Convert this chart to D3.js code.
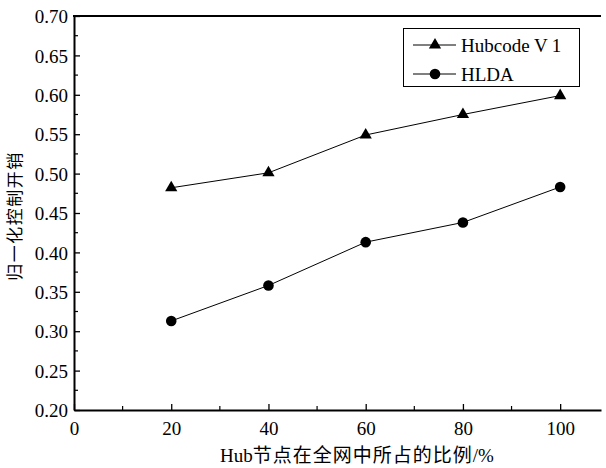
<!DOCTYPE html>
<html><head><meta charset="utf-8">
<script src="https://cdn.jsdelivr.net/npm/d3@7"></script>
<style>body{margin:0;background:#fff}</style>
</head><body>
<svg id="c" width="606" height="468"></svg>
<script>
const xValues = [20, 40, 60, 80, 100];
const hubcode = [0.482, 0.501, 0.549, 0.575, 0.599];
const hlda = [0.313, 0.358, 0.413, 0.438, 0.483];
const seriesNames = ["Hubcode V1", "HLDA"];
const xTicks = [0, 20, 40, 60, 80, 100];
const yTicks = [0.20,0.25,0.30,0.35,0.40,0.45,0.50,0.55,0.60,0.65,0.70];
const xTitleParts = ["Hub", "节点在全网中所占的比例", "/%"];
const yTitle = "归一化控制开销";

const svg = d3.select("#c");
const L=74, R=601, T=16, B=410;
const x = d3.scaleLinear().domain([0,108.4]).range([L,R]);
const y = d3.scaleLinear().domain([0.2,0.7]).range([B,T]);
const serif = "'Liberation Serif','Times New Roman',serif";
const cjk = "'Noto Sans CJK SC',sans-serif";

// minor ticks
const xMinor = [10,30,50,70,90];
const yMinor = d3.range(0.225,0.7,0.05);
const g = svg.append("g");
xMinor.forEach(v=>g.append("line").attr("x1",x(v)).attr("x2",x(v)).attr("y1",B).attr("y2",B-4).attr("stroke","#000").attr("stroke-width",1.2));
yMinor.forEach(v=>g.append("line").attr("x1",L).attr("x2",L+4).attr("y1",y(v)).attr("y2",y(v)).attr("stroke","#000").attr("stroke-width",1.2));

const xAxis = svg.append("g").attr("transform",`translate(0,${B})`)
  .call(d3.axisBottom(x).tickValues(xTicks).tickFormat(d3.format("d")).tickSizeInner(-6).tickSizeOuter(0).tickPadding(12));
const yAxis = svg.append("g").attr("transform",`translate(${L},0)`)
  .call(d3.axisLeft(y).tickValues(yTicks).tickFormat(d3.format(".2f")).tickSizeInner(-6).tickSizeOuter(0).tickPadding(6));
[xAxis,yAxis].forEach(a=>{
  a.attr("font-family",null).attr("font-size",null);
  a.select(".domain").attr("stroke-width",2);
  a.selectAll(".tick line").attr("stroke-width",1.3);
  a.selectAll("text").style("font-family",serif).style("font-size","19px").attr("fill","#000");
});
yAxis.selectAll("text").attr("dy","0.35em");
// top border
svg.append("line").attr("x1",L-1).attr("x2",R).attr("y1",T).attr("y2",T).attr("stroke","#000").attr("stroke-width",2);

const line = d3.line().x((d,i)=>x(xValues[i])).y(d=>y(d));
const tri = d3.symbol().type(d3.symbolTriangle).size(65);
function drawSeries(vals, type){
  svg.append("path").attr("d",line(vals)).attr("fill","none").attr("stroke","#000").attr("stroke-width",1);
  vals.forEach((v,i)=>{
    if(type==="tri") svg.append("path").attr("d",tri()).attr("transform",`translate(${x(xValues[i])},${y(v)})`).attr("fill","#000");
    else svg.append("circle").attr("cx",x(xValues[i])).attr("cy",y(v)).attr("r",5.3).attr("fill","#000");
  });
}
drawSeries(hubcode,"tri");
drawSeries(hlda,"circ");

// legend
const lg = svg.append("g");
lg.append("rect").attr("x",403.5).attr("y",28.5).attr("width",176).attr("height",58).attr("fill","#fff").attr("stroke","#000").attr("stroke-width",1);
[["tri",45],["circ",74]].forEach(([t,yy],i)=>{
  lg.append("line").attr("x1",413).attr("x2",456).attr("y1",yy).attr("y2",yy).attr("stroke","#000");
  if(t==="tri") lg.append("path").attr("d",tri()).attr("transform",`translate(435,${yy})`);
  else lg.append("circle").attr("cx",435).attr("cy",yy).attr("r",5.3);
  const tx = lg.append("text").attr("x",461).attr("y",yy).attr("dy","0.35em").style("font-family",serif).style("font-size","19px");
  const name = seriesNames[i];
  if (name.endsWith("V1")) {
    tx.append("tspan").text(name.slice(0,-1));
    tx.append("tspan").attr("dx",4).text(name.slice(-1));
  } else tx.text(name);
});

const xt = svg.append("text").attr("x",357).attr("y",462).attr("text-anchor","middle");
xt.append("tspan").style("font-family",serif).style("font-size","19px").text(xTitleParts[0]);
xt.append("tspan").style("font-family",cjk).style("font-size","19px").style("letter-spacing","1px").text(xTitleParts[1]);
xt.append("tspan").style("font-family",serif).style("font-size","19px").text(xTitleParts[2]);
svg.append("text").attr("transform","translate(15,216) rotate(-90)").attr("text-anchor","middle").attr("dy","0.35em").style("font-family",cjk).style("font-size","17px").style("letter-spacing","1.5px").text(yTitle);
</script>
</body></html>
